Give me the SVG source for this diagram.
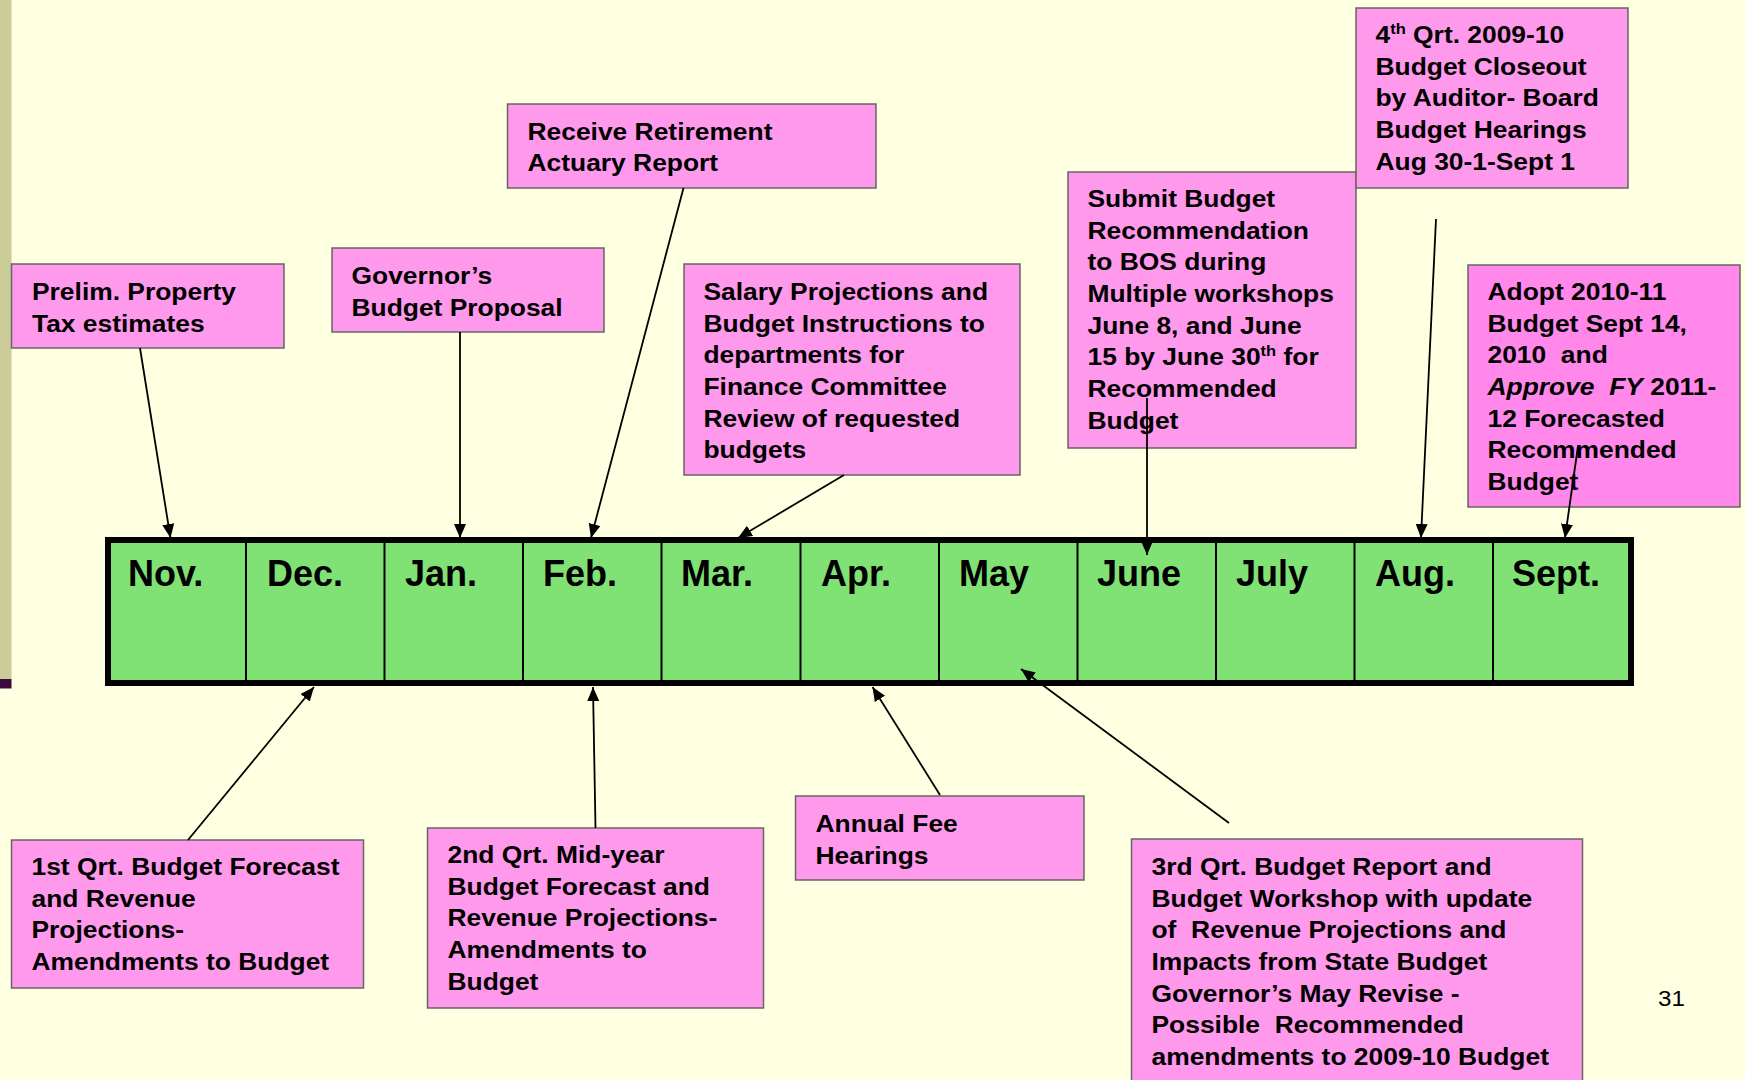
<svg xmlns="http://www.w3.org/2000/svg" width="1745" height="1080" viewBox="0 0 1745 1080">
<style>
.box{fill:#FF99EB;stroke:#666666;stroke-width:1.5}
.box2{fill:#FF88EA;stroke:#666666;stroke-width:1.5}
.t{font-family:"Liberation Sans",Arial,sans-serif;font-weight:bold;font-size:24px;fill:#000;white-space:pre}
.m{font-family:"Liberation Sans",Arial,sans-serif;font-weight:bold;font-size:36px;fill:#000}
.sup{font-size:15px}
.cell{stroke:#000;stroke-width:2}
.c{stroke:#000;stroke-width:1.8;fill:none;marker-end:url(#ah)}
</style>
<defs>
<marker id="ah" markerUnits="userSpaceOnUse" markerWidth="15" markerHeight="13" refX="14" refY="6" orient="auto">
<path d="M0,0 L14,6 L0,12 z" fill="#000"/>
</marker>
</defs>
<rect x="0" y="0" width="1745" height="1080" fill="#FFFFE1"/>
<rect x="0" y="0" width="11.5" height="679" fill="#CCCC99"/>
<rect x="0" y="679" width="11.5" height="9.5" fill="#3A0A3F"/>

<g id="n-prelim"><rect class="box" x="11.5" y="264" width="272.5" height="84"/>
<text class="t" transform="translate(32 300) scale(1.1 1)"><tspan x="0" y="0">Prelim. Property</tspan><tspan x="0" y="31.7">Tax estimates</tspan></text></g>

<g id="n-governor"><rect class="box" x="332" y="248" width="272" height="84"/>
<text class="t" transform="translate(351.5 284) scale(1.1 1)"><tspan x="0" y="0">Governor’s</tspan><tspan x="0" y="31.7">Budget Proposal</tspan></text></g>

<g id="n-receive"><rect class="box" x="507.5" y="104" width="368.5" height="84"/>
<text class="t" transform="translate(527.5 139.5) scale(1.1 1)"><tspan x="0" y="0">Receive Retirement</tspan><tspan x="0" y="31.7">Actuary Report</tspan></text></g>

<g id="n-salary"><rect class="box" x="684" y="264" width="336" height="211"/>
<text class="t" transform="translate(703.5 300) scale(1.1 1)"><tspan x="0" y="0">Salary Projections and</tspan><tspan x="0" y="31.7">Budget Instructions to</tspan><tspan x="0" y="63.4">departments for</tspan><tspan x="0" y="95.1">Finance Committee</tspan><tspan x="0" y="126.8">Review of requested</tspan><tspan x="0" y="158.5">budgets</tspan></text></g>

<g id="n-submit"><rect class="box" x="1068" y="172" width="288" height="276"/>
<text class="t" transform="translate(1087.5 207) scale(1.1 1)"><tspan x="0" y="0">Submit Budget</tspan><tspan x="0" y="31.7">Recommendation</tspan><tspan x="0" y="63.4">to BOS during</tspan><tspan x="0" y="95.1">Multiple workshops</tspan><tspan x="0" y="126.8">June 8, and June</tspan><tspan x="0" y="158.5">15 by June 30</tspan><tspan class="sup" dy="-9">th</tspan><tspan dy="9"> for</tspan><tspan x="0" y="190.2">Recommended</tspan><tspan x="0" y="221.9">Budget</tspan></text></g>

<g id="n-q4"><rect class="box" x="1356" y="8" width="272" height="180"/>
<text class="t" transform="translate(1375.5 43) scale(1.1 1)"><tspan x="0" y="0">4</tspan><tspan class="sup" dy="-9">th</tspan><tspan dy="9"> Qrt. 2009-10</tspan><tspan x="0" y="31.7">Budget Closeout</tspan><tspan x="0" y="63.4">by Auditor- Board</tspan><tspan x="0" y="95.1">Budget Hearings</tspan><tspan x="0" y="126.8">Aug 30-1-Sept 1</tspan></text></g>

<g id="n-adopt"><rect class="box2" x="1468" y="265" width="272" height="242"/>
<text class="t" transform="translate(1487.5 300) scale(1.1 1)"><tspan x="0" y="0">Adopt 2010-11</tspan><tspan x="0" y="31.7">Budget Sept 14,</tspan><tspan x="0" y="63.4">2010  and</tspan><tspan x="0" y="95.1" font-style="italic">Approve  FY</tspan><tspan> 2011-</tspan><tspan x="0" y="126.8">12 Forecasted</tspan><tspan x="0" y="158.5">Recommended</tspan><tspan x="0" y="190.2">Budget</tspan></text></g>

<g id="n-q1"><rect class="box" x="11.5" y="840" width="352" height="148"/>
<text class="t" transform="translate(31.5 875) scale(1.1 1)"><tspan x="0" y="0">1st Qrt. Budget Forecast</tspan><tspan x="0" y="31.7">and Revenue</tspan><tspan x="0" y="63.4">Projections-</tspan><tspan x="0" y="95.1">Amendments to Budget</tspan></text></g>

<g id="n-q2"><rect class="box" x="427.5" y="828" width="336" height="180"/>
<text class="t" transform="translate(447.5 863) scale(1.1 1)"><tspan x="0" y="0">2nd Qrt. Mid-year</tspan><tspan x="0" y="31.7">Budget Forecast and</tspan><tspan x="0" y="63.4">Revenue Projections-</tspan><tspan x="0" y="95.1">Amendments to</tspan><tspan x="0" y="126.8">Budget</tspan></text></g>

<g id="n-fee"><rect class="box" x="795.5" y="796" width="288.5" height="84"/>
<text class="t" transform="translate(815.5 832) scale(1.1 1)"><tspan x="0" y="0">Annual Fee</tspan><tspan x="0" y="31.7">Hearings</tspan></text></g>

<g id="n-q3"><rect class="box" x="1131.5" y="839" width="451" height="260"/>
<text class="t" transform="translate(1151.5 875) scale(1.1 1)"><tspan x="0" y="0">3rd Qrt. Budget Report and</tspan><tspan x="0" y="31.7">Budget Workshop with update</tspan><tspan x="0" y="63.4">of  Revenue Projections and</tspan><tspan x="0" y="95.1">Impacts from State Budget</tspan><tspan x="0" y="126.8">Governor’s May Revise -</tspan><tspan x="0" y="158.5">Possible  Recommended</tspan><tspan x="0" y="190.2">amendments to 2009-10 Budget</tspan></text></g>

<g id="timeline">
<rect x="108" y="540" width="1523" height="143" fill="#80E175" stroke="#000" stroke-width="6"/>
<g class="cell">
<line x1="246" y1="543" x2="246" y2="680"/><line x1="384.5" y1="543" x2="384.5" y2="680"/><line x1="523" y1="543" x2="523" y2="680"/><line x1="661.5" y1="543" x2="661.5" y2="680"/><line x1="800.5" y1="543" x2="800.5" y2="680"/><line x1="939" y1="543" x2="939" y2="680"/><line x1="1077.5" y1="543" x2="1077.5" y2="680"/><line x1="1216" y1="543" x2="1216" y2="680"/><line x1="1354.5" y1="543" x2="1354.5" y2="680"/><line x1="1493" y1="543" x2="1493" y2="680"/>
</g>
<text class="m" x="128" y="586">Nov.</text>
<text class="m" x="267" y="586">Dec.</text>
<text class="m" x="405" y="586">Jan.</text>
<text class="m" x="543" y="586">Feb.</text>
<text class="m" x="681" y="586">Mar.</text>
<text class="m" x="821" y="586">Apr.</text>
<text class="m" x="959" y="586">May</text>
<text class="m" x="1097" y="586">June</text>
<text class="m" x="1236" y="586">July</text>
<text class="m" x="1375" y="586">Aug.</text>
<text class="m" x="1512" y="586">Sept.</text>
</g>

<g id="connectors">
<line class="c" x1="140" y1="348" x2="170.5" y2="538"/>
<line class="c" x1="460" y1="332" x2="460" y2="538"/>
<line class="c" x1="683.5" y1="188" x2="591" y2="538"/>
<line class="c" x1="844" y1="475" x2="738" y2="538"/>
<line class="c" x1="1147" y1="398" x2="1147" y2="555"/>
<line class="c" x1="1436" y1="219" x2="1421" y2="538"/>
<line class="c" x1="1578" y1="446" x2="1565" y2="538"/>
<line class="c" x1="188" y1="840" x2="314" y2="687"/>
<line class="c" x1="595.5" y1="828" x2="593" y2="687"/>
<line class="c" x1="940" y1="795" x2="872.5" y2="687"/>
<line class="c" x1="1229" y1="823" x2="1021" y2="669"/>
</g>

<text x="1658" y="1006" transform="translate(1658 0) scale(1.1 1) translate(-1658 0)" font-family="Liberation Sans, Arial, sans-serif" font-size="22" fill="#000">31</text>
</svg>
